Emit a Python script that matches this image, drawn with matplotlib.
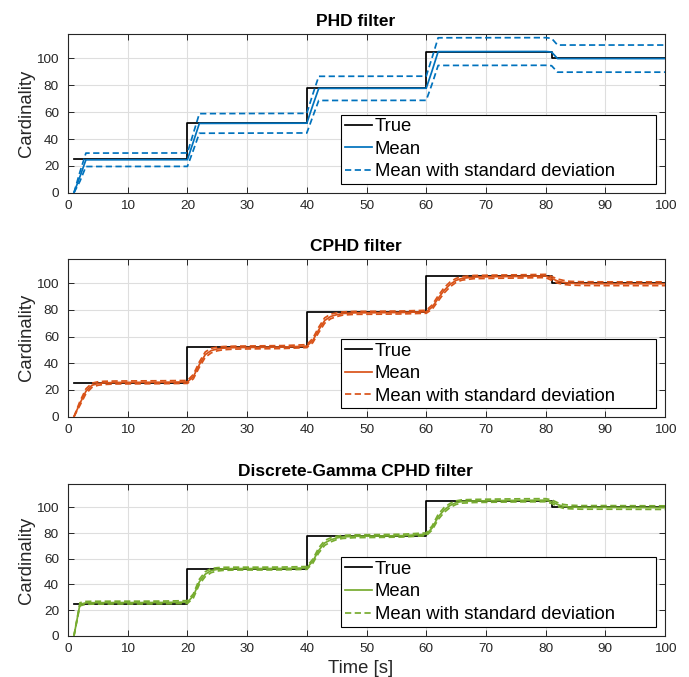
import matplotlib
matplotlib.use("Agg")
import matplotlib.pyplot as plt
import numpy as np

plt.rcParams['font.family'] = ['Liberation Sans', 'DejaVu Sans']

# ---------------- data ----------------
true_t = [1, 20, 40, 60, 81, 100]
true_n = [25, 52, 78, 105, 100, 100]

phd_t = [1, 2, 3, 20, 21, 22, 40, 41, 42, 60, 61, 62, 80, 81, 82, 100]
phd_mean = [0, 12, 24.5, 24.6, 38, 51.6, 51.8, 65, 77.7, 77.8, 91, 105.1, 105.2, 104.8, 99.9, 99.9]
phd_std = [0, 3.5, 5.0, 5.0, 6.3, 7.3, 7.3, 8.3, 9.0, 9.0, 9.8, 10.3, 10.3, 10.2, 10.1, 10.1]

cphd_t = [1, 2, 3, 4, 5, 6, 8, 12, 16, 20,
          21, 22, 23, 24, 25, 26, 28, 32, 36, 40,
          41, 42, 43, 44, 45, 46, 48, 52, 56, 60,
          61, 62, 63, 64, 65, 66, 68, 72, 76, 80,
          81, 82, 83, 84, 86, 90, 95, 100]
cphd_mean = [0, 10, 19, 23.5, 24.8, 25.3, 25.6, 25.7, 25.8, 26.0,
             30, 39, 46.5, 49.5, 50.7, 51.3, 51.7, 51.9, 52.1, 52.8,
             57, 65, 72, 75, 76.3, 77.2, 77.7, 77.8, 78, 78.5,
             82, 88.5, 94.5, 99, 102, 103.5, 104.5, 104.8, 105, 105.3,
             103.5, 101.5, 100.5, 99.9, 99.6, 99.5, 99.5, 99.5]
cphd_std = [0, 1.5, 1.8, 1.6, 1.3, 1.2, 1.1, 1.1, 1.1, 1.1,
            1.6, 2.0, 2.0, 1.7, 1.4, 1.2, 1.1, 1.1, 1.1, 1.1,
            1.6, 2.0, 2.0, 1.7, 1.4, 1.2, 1.1, 1.1, 1.1, 1.1,
            1.6, 2.0, 2.0, 1.8, 1.5, 1.3, 1.2, 1.2, 1.2, 1.2,
            1.4, 1.5, 1.5, 1.4, 1.4, 1.4, 1.4, 1.4]

gam_t = [1, 2, 3, 4, 8, 12, 16, 20,
         21, 22, 23, 24, 25, 26, 28, 32, 36, 40,
         41, 42, 43, 44, 45, 46, 48, 52, 56, 60,
         61, 62, 63, 64, 65, 66, 68, 72, 76, 80,
         81, 82, 83, 84, 86, 90, 95, 100]
gam_mean = [0, 24.5, 25.6, 25.7, 25.8, 25.8, 25.9, 26.2,
            31, 42, 48, 50.8, 51.7, 52.1, 52.3, 52.3, 52.4, 52.8,
            58, 66.5, 72.3, 74.7, 76.2, 77, 77.5, 77.7, 78, 79,
            84, 92.5, 98, 101.5, 103.7, 104.6, 105, 105.3, 105.5, 105.6,
            104.5, 102.2, 100.8, 100.3, 100, 100, 99.9, 99.8]
gam_std = [0, 1.2, 1.1, 1.1, 1.1, 1.1, 1.1, 1.1,
           1.6, 2.0, 1.9, 1.6, 1.3, 1.2, 1.1, 1.1, 1.1, 1.1,
           1.6, 2.0, 1.9, 1.6, 1.3, 1.2, 1.1, 1.1, 1.1, 1.1,
           1.6, 2.0, 1.9, 1.6, 1.4, 1.3, 1.2, 1.2, 1.2, 1.2,
           1.4, 1.5, 1.5, 1.4, 1.4, 1.4, 1.4, 1.4]

titles = ["PHD filter", "CPHD filter", "Discrete-Gamma CPHD filter"]
colors = ["#0072BD", "#D95319", "#77AC30"]
series = [(phd_t, phd_mean, phd_std), (cphd_t, cphd_mean, cphd_std), (gam_t, gam_mean, gam_std)]
labels = ["True", "Mean", "Mean with standard deviation"]
xticks = [0, 10, 20, 30, 40, 50, 60, 70, 80, 90, 100]
yticks = [0, 20, 40, 60, 80, 100]

# ---------------- layout ----------------
W, H = 689, 677
fig = plt.figure(figsize=(W / 100, H / 100), dpi=100)
ax_px = [(34.3, 192.7), (259.0, 416.7), (484.3, 635.7)]
leg_px = [(112, 184), (337.3, 408.3), (556, 626.7)]
left_px, right_px = 68, 665
grey = (0.15, 0.15, 0.15)
lw = 1.25

for i in range(3):
    top, bot = ax_px[i]
    ax = fig.add_axes([left_px / W, 1 - bot / H, (right_px - left_px) / W, (bot - top) / H])
    t, m, s = series[i]
    t = np.asarray(t); m = np.asarray(m); s = np.asarray(s)
    c = colors[i]
    h1, = ax.step(true_t, true_n, where='post', color='k', lw=lw, zorder=3)
    h2, = ax.plot(t, m, color=c, lw=lw, zorder=4)
    h3, = ax.plot(t, m + s, color=c, lw=lw, ls=(0, (3.6, 2.0)), zorder=5)
    ax.plot(t, m - s, color=c, lw=lw, ls=(0, (3.6, 2.0)), zorder=5)

    ax.set_xlim(0, 100)
    ax.set_ylim(0, 118)
    ax.set_xticks(xticks)
    ax.set_yticks(yticks)
    ax.grid(True, color=(0.87, 0.87, 0.87), lw=0.8)
    ax.set_axisbelow(True)
    ax.tick_params(direction='in', length=4.5, width=0.7, colors=grey,
                   labelsize=9.7, top=True, right=True)
    ax.tick_params(axis='y', pad=6.5)
    ax.tick_params(axis='x', pad=5)
    for sp in ax.spines.values():
        sp.set_color(grey)
        sp.set_linewidth(0.8)
    ax.set_ylabel("Cardinality", fontsize=13.3, color=grey)
    ax.yaxis.set_label_coords(-0.055, 0.5)
    ax.set_title(titles[i], fontsize=12.5, fontweight='bold', x=0.482, pad=6)

    lt, lb = leg_px[i]
    y0 = (bot - lb) / (bot - top)
    hh = (lb - lt) / (bot - top)
    x0 = (341 - left_px) / (right_px - left_px)
    ww = (656 - 341) / (right_px - left_px)
    leg = ax.legend([h1, h2, h3], labels, loc='lower left',
                    bbox_to_anchor=(x0, y0, ww, hh), mode='expand',
                    borderaxespad=0, fontsize=13.3, handlelength=1.5,
                    handletextpad=0.12, borderpad=0.2, labelspacing=0.3,
                    fancybox=False, framealpha=1, edgecolor='k')
    leg.get_frame().set_linewidth(0.8)
    if i == 2:
        ax.set_xlabel("Time [s]", fontsize=13.3, color=grey)
        ax.xaxis.set_label_coords(0.49, -0.163)

fig.savefig("out.png", dpi=100)
